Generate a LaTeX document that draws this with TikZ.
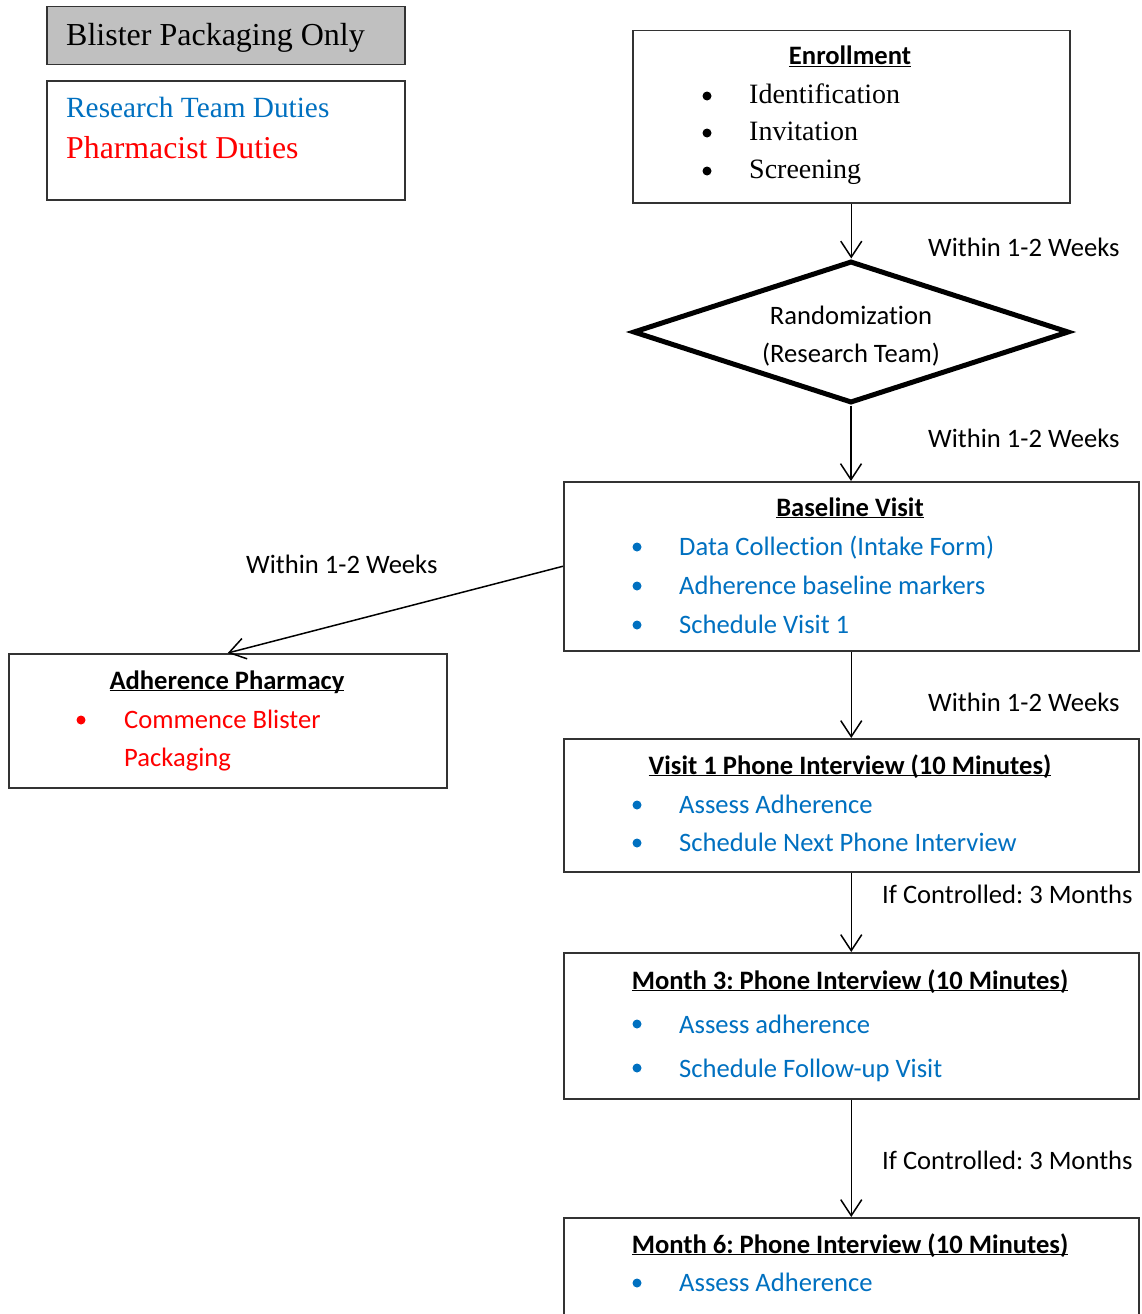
\documentclass[tikz,border=0pt]{standalone}
\usepackage{fontspec}
\setmainfont{Carlito}[Ligatures=NoCommon]
\newfontfamily\serifA{Liberation Serif}
\usetikzlibrary{shapes.geometric,arrows.meta}
\definecolor{rblue}{HTML}{0070C0}
\definecolor{rred}{HTML}{FF0000}
\definecolor{lgray}{HTML}{C0C0C0}
\newcommand\ttlul[1]{\underline{\smash{#1}}}
\frenchspacing
\begin{document}
\begin{tikzpicture}[x=1pt,y=-1pt,
 box/.style={draw=black!80,line width=1.5pt,rectangle,inner sep=0pt,anchor=north west},
 lbl/.style={font=\fontsize{26.6}{31}\selectfont,anchor=base west,inner sep=0pt},
 ttl/.style={font=\fontsize{26.6}{31}\selectfont\bfseries,anchor=base,inner sep=0pt},
 itm/.style={font=\fontsize{26.6}{31}\selectfont,anchor=base west,inner sep=0pt},
 eitm/.style={font=\serifA\fontsize{28}{33}\selectfont,anchor=base west,inner sep=0pt},
 arr/.style={line width=1.5pt,-{Straight Barb[length=16pt,width=21pt,line width=1.5pt]}},
 bul/.style={circle,fill,inner sep=0pt,minimum size=9pt}]
\useasboundingbox (0,0) rectangle (1141,1314);
\clip (0,0) rectangle (1141,1314);

% legend
\node[box,fill=lgray,minimum width=358pt,minimum height=58pt] (leg1) at (46,6) {};
\node[anchor=base west,inner sep=0pt,font=\serifA\fontsize{32}{38}\selectfont] (leg1t) at (66,46) {Blister Packaging Only};
\node[box,minimum width=358pt,minimum height=119pt] (leg2) at (46,80) {};
\node[anchor=base west,inner sep=0pt,font=\serifA\fontsize{29.3}{35}\selectfont,text=rblue] (leg2a) at (66,117) {Research Team Duties};
\node[anchor=base west,inner sep=0pt,font=\serifA\fontsize{31.8}{35}\selectfont,text=rred] (leg2b) at (66,158) {Pharmacist Duties};

% enrollment
\node[box,minimum width=437pt,minimum height=172pt] (enr) at (632,30) {};
\node[ttl] (enrt) at (850,65) {\ttlul{Enrollment}};
\node[bul] (enrb1) at (707,96) {};
\node[bul] (enrb2) at (707,133) {};
\node[bul] (enrb3) at (707,171) {};
\node[eitm] (enri1) at (749,103) {Identification};
\node[eitm] (enri2) at (749,140) {Invitation};
\node[eitm] (enri3) at (749,178) {Screening};

% randomization
\node[draw,diamond,line width=5pt,minimum width=436pt,minimum height=142pt,inner sep=0pt] (rand) at (851,332) {};
\node[anchor=base,inner sep=0pt,font=\fontsize{26.6}{31}\selectfont] (randa) at (851,324) {Randomization};
\node[anchor=base,inner sep=0pt,font=\fontsize{26.6}{31}\selectfont] (randb) at (851,362) {(Research Team)};

% baseline
\node[box,minimum width=575pt,minimum height=169pt] (bv) at (563,481) {};
\node[ttl] (bvt) at (850,516) {\ttlul{Baseline Visit}};
\node[bul,rblue] (bvb1) at (637,547) {};
\node[bul,rblue] (bvb2) at (637,586) {};
\node[bul,rblue] (bvb3) at (637,625) {};
\node[itm,text=rblue] (bvi1) at (679,555) {Data Collection (Intake Form)};
\node[itm,text=rblue] (bvi2) at (679,594) {Adherence baseline markers};
\node[itm,text=rblue] (bvi3) at (679,633) {Schedule Visit 1};

% adherence pharmacy
\node[box,minimum width=438pt,minimum height=134pt] (ap) at (8,653) {};
\node[ttl] (apt) at (227,689) {\ttlul{Adherence Pharmacy}};
\node[bul,rred] (apb1) at (81,720) {};
\node[itm,text=rred] (api1) at (124,728) {Commence Blister};
\node[itm,text=rred] (api2) at (124,766) {Packaging};

% visit 1
\node[box,minimum width=575pt,minimum height=133pt] (v1) at (563,738) {};
\node[ttl] (v1t) at (850,774) {\ttlul{Visit 1 Phone Interview (10 Minutes)}};
\node[bul,rblue] (v1b1) at (637,805) {};
\node[bul,rblue] (v1b2) at (637,843) {};
\node[itm,text=rblue] (v1i1) at (679,813) {Assess Adherence};
\node[itm,text=rblue] (v1i2) at (679,851) {Schedule Next Phone Interview};

% month 3
\node[box,minimum width=575pt,minimum height=146pt] (m3) at (563,952) {};
\node[ttl] (m3t) at (850,989) {\ttlul{Month 3: Phone Interview (10 Minutes)}};
\node[bul,rblue] (m3b1) at (637,1024) {};
\node[bul,rblue] (m3b2) at (637,1068) {};
\node[itm,text=rblue] (m3i1) at (679,1033) {Assess adherence};
\node[itm,text=rblue] (m3i2) at (679,1077) {Schedule Follow-up Visit};

% month 6
\node[box,minimum width=575pt,minimum height=140pt] (m6) at (563,1217) {};
\node[ttl] (m6t) at (850,1253) {\ttlul{Month 6: Phone Interview (10 Minutes)}};
\node[bul,rblue] (m6b1) at (637,1283) {};
\node[itm,text=rblue] (m6i1) at (679,1291) {Assess Adherence};

% connectors
\draw[arr] (enr.south) -- (enr.south |- rand.north);
\draw[arr] (rand.south) -- (rand.south |- bv.north);
\draw[arr] (bv.west) -- (ap.north);
\draw[arr] (bv.south) -- (v1.north);
\draw[arr] (v1.south) -- (m3.north);
\draw[arr] (m3.south) -- (m6.north);

% labels
\node[lbl] (l1) at (928,256) {Within 1-2 Weeks};
\node[lbl] (l2) at (928,447) {Within 1-2 Weeks};
\node[lbl] (l3) at (246,573) {Within 1-2 Weeks};
\node[lbl] (l4) at (928,711) {Within 1-2 Weeks};
\node[lbl] (l5) at (882,903) {If Controlled: 3 Months};
\node[lbl] (l6) at (882,1169) {If Controlled: 3 Months};
\end{tikzpicture}
\end{document}
